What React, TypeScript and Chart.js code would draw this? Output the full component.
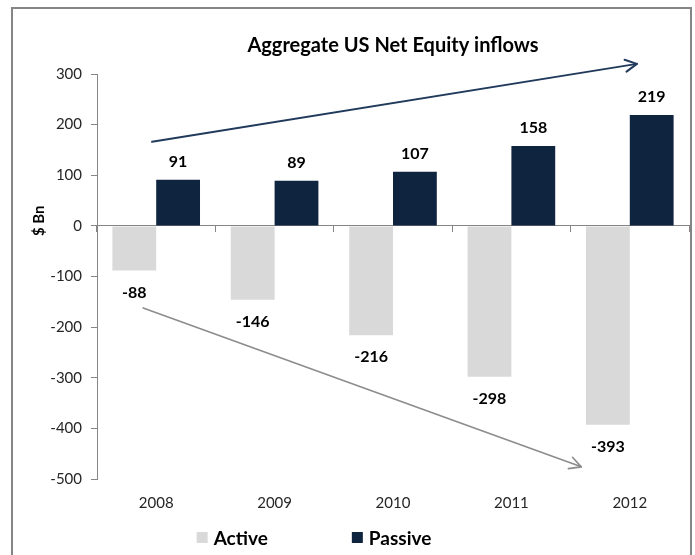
import React, { useEffect, useRef } from "react";
import { Chart, registerables } from "chart.js";

Chart.register(...registerables);

const categories = ["2008", "2009", "2010", "2011", "2012"];
const activeValues = [-88, -146, -216, -298, -393];
const passiveValues = [91, 89, 107, 158, 219];
const yMin = -500;
const yMax = 300;
const yStep = 100;
const chartTitle = "Aggregate US Net Equity inflows";
const yAxisTitle = "$ Bn";
// trend arrows in data coordinates: [categoryIndex, value]
const passiveTrend = [[-0.035, 166], [4.06, 320]];
const activeTrend = [[-0.11, -162], [3.59, -476]];

const FONT = "Lato, 'Open Sans', sans-serif";
const NAVY = "#0F243E";
const GREY_BAR = "#D9D9D9";
const AXIS = "#868686";

function drawArrow(ctx: CanvasRenderingContext2D, x1: number, y1: number, x2: number, y2: number, color: string, width: number) {
  ctx.save();
  ctx.strokeStyle = color;
  ctx.lineWidth = width;
  ctx.lineCap = "round";
  ctx.lineJoin = "round";
  ctx.beginPath();
  ctx.moveTo(x1, y1);
  ctx.lineTo(x2, y2);
  ctx.stroke();
  const ang = Math.atan2(y2 - y1, x2 - x1);
  const len = 13;
  const spread = Math.PI / 6.5;
  ctx.beginPath();
  ctx.moveTo(x2 - len * Math.cos(ang - spread), y2 - len * Math.sin(ang - spread));
  ctx.lineTo(x2, y2);
  ctx.lineTo(x2 - len * Math.cos(ang + spread), y2 - len * Math.sin(ang + spread));
  ctx.stroke();
  ctx.restore();
}

const overlayPlugin = {
  id: "overlay",
  afterDatasetsDraw(chart: any) {
    const ctx: CanvasRenderingContext2D = chart.ctx;
    const xs = chart.scales.x;
    const ys = chart.scales.y;
    const area = chart.chartArea;

    // data labels
    ctx.save();
    ctx.font = `bold 16px ${FONT}`;
    ctx.fillStyle = "#000";
    ctx.textAlign = "center";
    ctx.textBaseline = "middle";
    chart.data.datasets.forEach((ds: any, di: number) => {
      const meta = chart.getDatasetMeta(di);
      meta.data.forEach((bar: any, i: number) => {
        const v = ds.data[i];
        const y = v >= 0 ? bar.y - 18 : bar.y + 22;
        ctx.fillText(String(v), bar.x, y);
      });
    });
    ctx.restore();

    // trend arrows
    const p = (pt: number[]) => [xs.getPixelForValue(pt[0]), ys.getPixelForValue(pt[1])];
    const [a1, a2] = [p(passiveTrend[0]), p(passiveTrend[1])];
    drawArrow(ctx, a1[0], a1[1], a2[0], a2[1], "#213A5C", 2);
    const [b1, b2] = [p(activeTrend[0]), p(activeTrend[1])];
    drawArrow(ctx, b1[0], b1[1], b2[0], b2[1], "#8C8C8C", 1.6);

    // title
    ctx.save();
    ctx.font = `bold 20px ${FONT}`;
    ctx.fillStyle = "#000";
    ctx.textAlign = "center";
    ctx.textBaseline = "middle";
    ctx.fillText(chartTitle, (area.left + area.right) / 2, 46);
    ctx.restore();

    // y axis title
    ctx.save();
    ctx.font = `bold 15px ${FONT}`;
    ctx.fillStyle = "#000";
    ctx.textAlign = "center";
    ctx.textBaseline = "middle";
    ctx.translate(39, ys.getPixelForValue(10));
    ctx.rotate(-Math.PI / 2);
    ctx.fillText(yAxisTitle, 0, 0);
    ctx.restore();

    // legend
    ctx.save();
    ctx.font = `bold 19px ${FONT}`;
    ctx.textBaseline = "middle";
    ctx.textAlign = "left";
    const box = 11;
    const gap = 6;
    const itemGap = 84;
    const items = chart.data.datasets.map((d: any) => ({ label: d.label, color: d.backgroundColor, w: ctx.measureText(d.label).width }));
    const total = items.reduce((s: number, it: any) => s + box + gap + it.w, 0) + itemGap * (items.length - 1);
    let x = 314 - total / 2;
    const cy = 537.5;
    items.forEach((it: any) => {
      ctx.fillStyle = it.color;
      ctx.fillRect(x, cy - box / 2, box, box);
      x += box + gap;
      ctx.fillStyle = "#000";
      ctx.fillText(it.label, x, cy + 1);
      x += it.w + itemGap;
    });
    ctx.restore();
  },
};

export default function App() {
  const ref = useRef<HTMLCanvasElement | null>(null);
  useEffect(() => {
    if (!ref.current) return;
    const chart = new Chart(ref.current, {
      type: "bar",
      data: {
        labels: categories,
        datasets: [
          { label: "Active", data: activeValues, backgroundColor: GREY_BAR, categoryPercentage: 0.74, barPercentage: 1 },
          { label: "Passive", data: passiveValues, backgroundColor: NAVY, categoryPercentage: 0.74, barPercentage: 1 },
        ],
      },
      options: {
        responsive: false,
        animation: false,
        layout: { padding: { left: 20, right: 6, top: 74, bottom: 36 } },
        plugins: { legend: { display: false }, title: { display: false }, tooltip: { enabled: false } },
        scales: {
          x: {
            type: "category",
            position: "bottom",
            offset: true,
            grid: { display: false, drawTicks: false, offset: true },
            border: { display: false },
            ticks: { font: { family: FONT, size: 15 }, color: "#262626", padding: 15, maxRotation: 0 },
            afterFit: (s: any) => { s.height = 40; },
          },
          x2: {
            type: "category",
            axis: "x",
            labels: categories,
            position: { y: 0 },
            offset: true,
            grid: { display: true, drawOnChartArea: false, drawTicks: true, tickLength: 6, color: AXIS, offset: true },
            border: { display: true, color: AXIS, width: 1 },
            ticks: { display: false },
          },
          y: {
            type: "linear",
            min: yMin,
            max: yMax,
            ticks: { stepSize: yStep, font: { family: FONT, size: 15 }, color: "#262626", padding: 9 },
            grid: { display: true, drawOnChartArea: false, drawTicks: true, tickLength: 6, color: AXIS },
            border: { display: true, color: AXIS, width: 1 },
            afterFit: (s: any) => { s.width = 77; },
          },
        },
      } as any,
      plugins: [overlayPlugin],
    });
    return () => chart.destroy();
  }, []);

  return (
    <div style={{ position: "absolute", left: 0, top: 0, width: 695, height: 555, overflow: "hidden", background: "#fff" }}>
      <div style={{ position: "absolute", left: 11, top: 7, width: 681, height: 600, boxSizing: "border-box", border: "2px solid #858585" }} />
      <canvas ref={ref} width={695} height={555} style={{ position: "absolute", left: 0, top: 0, width: 695, height: 555 }} />
    </div>
  );
}
